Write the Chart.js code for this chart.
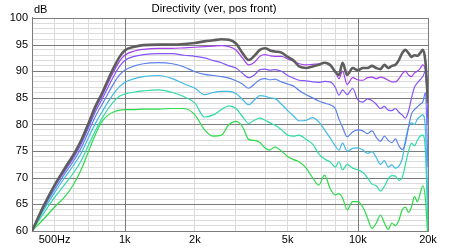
<!DOCTYPE html>
<html>
<head>
<meta charset="utf-8">
<script src="https://cdn.jsdelivr.net/npm/chart.js@4.4.0/dist/chart.umd.min.js"></script>
<style>
  html, body { margin: 0; padding: 0; background: #fff; }
</style>
</head>
<body>
<canvas id="chart" width="460" height="249"></canvas>
<script>
// frequency points (Hz) shared by every curve
const freqs = [400, 450, 500, 550, 600, 650, 700, 750, 800, 850, 900, 950,
  1000, 1100, 1200,
  1400, 1600, 1800, 2000, 2200, 2400, 2600, 2800,
  3000, 3200, 3400, 3600, 3800, 4000, 4200, 4400,
  4700, 5000, 5300, 5600,
  6000, 6400, 6800, 7200, 7600, 8000,
  8300, 8600, 9000, 9500,
  10000, 10500, 11000, 11500, 12000, 12500, 13000, 13500, 14000, 14500, 15000,
  15500, 16000, 16500, 17000, 17500, 18000, 18500, 19000, 19500, 20000];

// SPL (dB) of each curve
const curve0 = [60, 64.8, 68.6, 71.6, 74.2, 77.0, 80.3, 83.5, 85.9, 88.5, 90.8, 92.7,
  93.9, 94.6, 94.9,
  95.0, 95.0, 95.1, 95.3, 95.6, 95.8, 96.0, 95.9,
  95.2, 93.4, 92.1, 92.9, 94.0, 94.3, 93.9, 93.7,
  93.5, 92.7, 92.0, 90.9,
  90.6, 90.9, 91.2, 91.6, 91.2, 89.9,
  89.3, 91.6, 89.3, 90.6,
  90.2, 90.6, 90.6, 91.0, 90.6, 90.4, 91.2, 90.6, 91.0, 91.2, 92.1,
  93.4, 94.0, 93.4, 92.7, 93.0, 92.9, 93.4, 94.0, 91.8, 84];
const curve1 = [60, 64.9, 68.5, 71.4, 74.0, 76.8, 80.0, 83.1, 85.4, 87.9, 90.1, 91.9,
  93.0, 93.8, 94.1,
  94.3, 94.3, 94.4, 94.5, 94.6, 94.7, 94.8, 94.6,
  94.0, 92.5, 91.2, 91.7, 92.8, 93.1, 92.9, 92.8,
  92.8, 92.3, 91.9, 91.4,
  91.2, 91.3, 91.4, 91.6, 91.0, 90.0,
  88.6, 90.0, 87.5, 88.8,
  88.4, 88.3, 88.8, 88.9, 88.6, 88.9, 88.7, 88.3, 88.0, 88.0, 88.6,
  89.5, 90.0, 89.3, 89.0, 89.7, 90.0, 90.5, 91.2, 90.0, 84.5];
const curve2 = [60, 64.7, 68.3, 71.1, 73.6, 76.3, 79.5, 82.5, 84.8, 87.1, 89.2, 90.9,
  92.0, 92.8, 93.1,
  93.3, 93.3, 93.0, 92.8, 92.5, 92.0, 91.6, 91.0,
  90.6, 89.6, 88.8, 89.3, 90.3, 90.4, 90.2, 90.3,
  90.0, 89.2, 88.7, 88.3,
  88.2, 88.0, 87.9, 88.1, 88.0, 87.0,
  85.5, 86.5, 85.6, 86.8,
  84.6, 84.2, 84.8, 84.5, 83.8, 83.0, 83.4, 82.7, 82.6, 83.0, 82.3,
  81.8, 81.2, 82.5, 85.0, 87.0, 87.8, 88.4, 89.0, 90.0, 80];
const curve3 = [60, 64.4, 67.8, 70.6, 73.0, 75.6, 78.7, 81.6, 83.8, 85.9, 87.8, 89.3,
  90.2, 91.0, 91.4,
  91.6, 91.4, 90.8, 89.9, 89.4, 89.2, 89.0, 88.7,
  88.2, 87.6, 86.8, 87.6, 88.4, 88.6, 88.4, 88.5,
  88.0, 87.6, 87.2, 86.4,
  85.6, 85.0, 84.4, 84.0, 83.7, 83.0,
  81.0, 79.5, 77.7, 78.6,
  79.0, 78.8, 78.3, 78.8, 77.6, 76.8, 77.8, 77.0, 76.6, 77.3, 76.0,
  75.3, 76.5, 79.5, 82.0, 82.8, 83.3, 83.8, 84.2, 86.0, 72];
const curve4 = [60, 64.0, 67.2, 69.9, 72.2, 74.6, 77.6, 80.3, 82.4, 84.3, 85.9, 87.1,
  87.9, 88.6, 89.0,
  89.2, 88.6, 87.6, 86.8, 85.6, 86.0, 86.2, 86.2,
  85.8, 84.7, 83.7, 84.6, 85.4, 85.3, 85.0, 84.9,
  83.8, 82.6, 81.6, 80.7,
  80.8, 81.3, 80.5, 79.0, 77.5, 76.0,
  75.2, 76.5, 75.0, 75.5,
  75.6, 75.2, 74.6, 74.9, 73.8, 72.5, 73.2, 72.0, 72.4, 71.8, 72.2,
  73.5, 77.0, 79.5, 80.3, 80.0, 81.0, 81.5, 81.8, 79.0, 64];
const curve5 = [60, 63.4, 66.3, 68.6, 70.8, 73.2, 76.2, 78.9, 81.2, 83.0, 84.4, 85.3,
  85.7, 86.1, 86.3,
  86.5, 86.0, 85.2, 84.0, 81.4, 81.8, 82.8, 83.5,
  83.0, 81.5, 80.2, 80.8, 81.2, 80.8, 80.3, 79.9,
  79.0, 78.0, 77.8, 78.0,
  77.2, 76.3, 74.5, 73.5, 73.0, 72.0,
  73.0, 71.5, 72.5, 71.8,
  71.5, 71.0, 70.0, 68.8, 68.5, 67.5, 68.4, 69.8, 70.4, 70.3, 69.5,
  70.0, 72.5, 75.0, 76.5, 76.0, 77.0, 77.8, 78.0, 75.0, 60];
const curve6 = [60, 62.3, 64.5, 66.3, 68.6, 71.5, 75.0, 78.2, 80.6, 81.8, 82.4, 82.7,
  82.8, 82.8, 82.9,
  82.9, 83.0, 83.0, 81.8, 79.0, 77.8, 78.0, 80.0,
  80.6, 79.6, 77.2, 77.0, 76.6, 75.6, 75.2, 75.8,
  75.0, 74.0, 73.4, 73.0,
  71.8, 70.0, 68.6, 70.5, 68.0, 66.8,
  67.0, 66.2, 64.0, 65.5,
  65.5, 64.5, 62.5, 60.5, 61.5, 63.0, 61.5, 60.3, 61.5, 61.0, 62.0,
  64.0, 64.5, 63.5, 64.5, 66.5, 65.5, 67.0, 68.5, 66.0, 58];

const curves = [curve0, curve1, curve2, curve3, curve4, curve5, curve6];
const curveColors = ['#5e5e5e', '#a33ff0', '#8456fa', '#5a80ee', '#3fbbe6', '#2fdca6', '#2bdc48'];
const curveWidths = [2.6, 1.2, 1.2, 1.2, 1.2, 1.2, 1.2];

// axis ticks
const xGridValues = [400, 500, 600, 700, 800, 900, 1000, 2000, 3000, 4000, 5000,
  6000, 7000, 8000, 9000, 10000, 20000];
const xLabels = { 500: '500Hz', 1000: '1k', 2000: '2k', 5000: '5k', 10000: '10k', 20000: '20k' };
const xMajor = [1000, 10000, 20000];
const yMajor = [65, 70, 75, 80, 85, 90, 95, 100];

const majorColor = '#7c7c7c';
const minorColor = '#dcdcdc';
const fontFamily = "'Liberation Sans', Arial, sans-serif";

// dark grid lines drawn after the light ones so they stay solid
const majorGrid = {
  id: 'majorGrid',
  beforeDatasetsDraw(chart) {
    const { ctx, chartArea: a, scales } = chart;
    ctx.save();
    ctx.strokeStyle = majorColor;
    ctx.lineWidth = 1;
    ctx.beginPath();
    xMajor.forEach(v => {
      const px = Math.round(scales.x.getPixelForValue(v)) + 0.5;
      ctx.moveTo(px, a.top);
      ctx.lineTo(px, a.bottom);
    });
    yMajor.forEach(v => {
      const py = Math.round(scales.y.getPixelForValue(v)) + 0.5;
      ctx.moveTo(a.left, py);
      ctx.lineTo(a.right, py);
    });
    ctx.stroke();
    ctx.restore();
  },
  afterDraw(chart) {
    // "dB" unit text at the top left
    const ctx = chart.ctx;
    ctx.save();
    ctx.font = '11px ' + fontFamily;
    ctx.fillStyle = '#000';
    ctx.textBaseline = 'middle';
    ctx.fillText('dB', 34, 10);
    ctx.restore();
  }
};

const datasets = curves.map((vals, i) => ({
  data: freqs.map((f, j) => ({ x: f, y: vals[j] })),
  borderColor: curveColors[i],
  borderWidth: curveWidths[i],
  pointRadius: 0,
  cubicInterpolationMode: 'monotone',
  fill: false
}));

new Chart(document.getElementById('chart'), {
  type: 'line',
  data: { datasets },
  plugins: [majorGrid],
  options: {
    responsive: false,
    animation: false,
    layout: { padding: { left: 0, right: 32, top: 0, bottom: 0 } },
    plugins: {
      legend: { display: false },
      tooltip: { enabled: false },
      title: {
        display: true,
        text: 'Directivity (ver, pos front)',
        color: '#000',
        font: { family: fontFamily, size: 11.3, weight: 'normal', lineHeight: 1.2 },
        padding: { top: 2, bottom: 2.4 }
      }
    },
    scales: {
      x: {
        type: 'logarithmic',
        min: 400,
        max: 20000,
        afterBuildTicks: (scale) => {
          scale.ticks = xGridValues.map(v => ({ value: v }));
        },
        afterFit: (scale) => { scale.height = 18; },
        ticks: {
          autoSkip: false,
          maxRotation: 0,
          padding: 2,
          color: '#000',
          font: { family: fontFamily, size: 11 },
          callback: (v) => xLabels[v] || ''
        },
        grid: {
          drawTicks: false,
          color: (c) => xMajor.includes(c.tick.value) ? 'rgba(0,0,0,0)' : minorColor
        },
        border: { color: majorColor }
      },
      y: {
        min: 60,
        max: 100,
        afterFit: (scale) => { scale.width = 32; },
        ticks: {
          stepSize: 1,
          autoSkip: false,
          padding: 4,
          color: '#000',
          font: { family: fontFamily, size: 11 },
          callback: (v) => v % 5 === 0 ? String(v) : ''
        },
        grid: {
          drawTicks: false,
          color: (c) => c.tick.value % 5 === 0 ? 'rgba(0,0,0,0)' : minorColor
        },
        border: { color: majorColor }
      }
    }
  }
});
</script>
</body>
</html>
